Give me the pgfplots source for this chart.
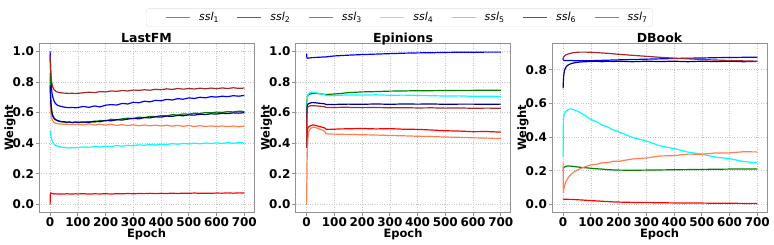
\documentclass[border=0pt]{standalone}
\usepackage{pgfplots}
\pgfplotsset{compat=1.18}
\usepackage{pgfplotstable}
\usepackage{fontspec}
\setmainfont{DejaVu Sans}

\definecolor{cA}{HTML}{FF0000}
\definecolor{cB}{HTML}{0000FF}
\definecolor{cC}{HTML}{008000}
\definecolor{cD}{HTML}{00FFFF}
\definecolor{cE}{HTML}{FF7F50}
\definecolor{cF}{HTML}{00008B}
\definecolor{cG}{HTML}{A52A2A}

% legend key: short stroke in the series colour, then the label
\newcommand{\sslkey}[2]{\textcolor{#1!70}{\rule[0.42ex]{24pt}{1.3pt}}\hspace{9pt}\textit{ssl}\textsubscript{#2}}

% learned weights of the seven SSL tasks per epoch
\pgfplotstableread{
ep   s1    s2    s3    s4    s5    s6    s7
0    0.000 1.000 0.860 0.480 0.670 0.780 0.975
1    0.072 0.930 0.780 0.470 0.640 0.720 0.920
2    0.075 0.870 0.720 0.455 0.615 0.680 0.880
3    0.074 0.820 0.680 0.445 0.595 0.650 0.850
5    0.073 0.760 0.630 0.430 0.570 0.615 0.810
7    0.071 0.725 0.600 0.418 0.556 0.592 0.785
10   0.070 0.700 0.580 0.405 0.545 0.575 0.765
15   0.068 0.672 0.563 0.392 0.535 0.560 0.748
20   0.069 0.658 0.553 0.386 0.530 0.553 0.740
25   0.068 0.650 0.548 0.381 0.528 0.549 0.735
30   0.067 0.645 0.543 0.378 0.526 0.546 0.732
40   0.068 0.640 0.540 0.374 0.525 0.541 0.729
50   0.067 0.636 0.538 0.372 0.523 0.540 0.727
60   0.069 0.633 0.535 0.370 0.524 0.537 0.726
70   0.068 0.632 0.538 0.368 0.521 0.538 0.725
80   0.067 0.634 0.534 0.371 0.524 0.535 0.727
90   0.069 0.631 0.537 0.369 0.522 0.538 0.724
100  0.068 0.633 0.536 0.372 0.523 0.536 0.726
120  0.070 0.640 0.534 0.375 0.519 0.539 0.729
140  0.067 0.634 0.541 0.372 0.526 0.535 0.733
160  0.069 0.643 0.537 0.378 0.518 0.544 0.730
180  0.068 0.637 0.548 0.374 0.524 0.540 0.737
200  0.070 0.648 0.545 0.381 0.517 0.549 0.735
220  0.067 0.652 0.556 0.377 0.523 0.546 0.741
240  0.070 0.649 0.552 0.384 0.516 0.553 0.739
260  0.069 0.660 0.559 0.380 0.521 0.551 0.744
280  0.071 0.656 0.563 0.386 0.515 0.557 0.741
300  0.069 0.667 0.561 0.383 0.520 0.562 0.747
320  0.071 0.664 0.570 0.389 0.514 0.559 0.745
340  0.070 0.674 0.567 0.386 0.519 0.567 0.749
360  0.072 0.670 0.575 0.392 0.513 0.565 0.746
380  0.070 0.680 0.573 0.388 0.518 0.572 0.752
400  0.072 0.677 0.580 0.394 0.512 0.570 0.749
420  0.071 0.686 0.578 0.391 0.517 0.577 0.755
440  0.073 0.682 0.586 0.397 0.511 0.575 0.751
460  0.071 0.691 0.584 0.393 0.516 0.581 0.757
480  0.073 0.687 0.591 0.398 0.510 0.579 0.753
500  0.072 0.696 0.589 0.395 0.515 0.585 0.757
520  0.074 0.692 0.596 0.400 0.509 0.583 0.754
540  0.072 0.700 0.594 0.396 0.514 0.589 0.759
560  0.073 0.696 0.600 0.401 0.509 0.587 0.755
580  0.072 0.704 0.598 0.397 0.513 0.592 0.760
600  0.074 0.701 0.603 0.402 0.508 0.590 0.756
620  0.073 0.707 0.601 0.398 0.513 0.595 0.761
640  0.075 0.704 0.606 0.403 0.508 0.593 0.757
660  0.073 0.710 0.604 0.399 0.512 0.598 0.762
680  0.075 0.707 0.609 0.404 0.507 0.596 0.758
700  0.074 0.712 0.607 0.401 0.511 0.599 0.760
}\lastfm

\pgfplotstableread{
ep   s1    s2    s3    s4    s5    s6    s7
0    0.370 0.985 0.550 0.380 0.000 0.400 0.370
1    0.420 0.960 0.640 0.560 0.150 0.600 0.590
2    0.470 0.957 0.690 0.650 0.300 0.640 0.620
3    0.490 0.956 0.705 0.690 0.380 0.650 0.630
5    0.500 0.955 0.715 0.715 0.440 0.655 0.637
7    0.505 0.956 0.718 0.722 0.470 0.658 0.640
10   0.510 0.957 0.720 0.727 0.485 0.660 0.642
15   0.515 0.958 0.722 0.731 0.497 0.663 0.644
20   0.518 0.959 0.724 0.733 0.503 0.665 0.645
25   0.519 0.959 0.725 0.732 0.505 0.665 0.645
30   0.517 0.960 0.725 0.730 0.503 0.664 0.644
40   0.512 0.961 0.724 0.727 0.497 0.662 0.643
50   0.507 0.962 0.722 0.723 0.490 0.660 0.641
60   0.502 0.963 0.720 0.720 0.482 0.658 0.639
65   0.500 0.963 0.719 0.719 0.478 0.657 0.638
70   0.491 0.964 0.718 0.711 0.462 0.652 0.634
80   0.490 0.966 0.719 0.710 0.460 0.652 0.633
100  0.491 0.970 0.721 0.712 0.459 0.653 0.633
120  0.493 0.972 0.724 0.713 0.458 0.654 0.634
150  0.494 0.975 0.730 0.715 0.457 0.655 0.634
200  0.496 0.979 0.735 0.714 0.455 0.654 0.632
250  0.493 0.982 0.737 0.716 0.453 0.656 0.633
300  0.495 0.985 0.740 0.713 0.450 0.654 0.631
350  0.491 0.988 0.741 0.714 0.448 0.656 0.632
400  0.490 0.990 0.743 0.712 0.445 0.655 0.630
450  0.486 0.991 0.743 0.710 0.443 0.656 0.631
500  0.481 0.993 0.744 0.708 0.440 0.654 0.629
550  0.479 0.994 0.745 0.709 0.438 0.655 0.630
600  0.475 0.994 0.745 0.706 0.435 0.655 0.628
650  0.476 0.995 0.746 0.707 0.433 0.654 0.629
700  0.472 0.995 0.745 0.705 0.430 0.655 0.628
}\epinions

\pgfplotstableread{
ep   s1    s2    s3    s4    s5    s6    s7
0    0.030 0.870 0.200 0.280 0.250 0.690 0.860
1    0.032 0.860 0.210 0.500 0.070 0.730 0.870
2    0.031 0.857 0.215 0.520 0.085 0.760 0.875
3    0.031 0.856 0.218 0.530 0.095 0.775 0.878
5    0.030 0.855 0.222 0.540 0.110 0.795 0.882
7    0.031 0.855 0.224 0.547 0.122 0.805 0.885
10   0.030 0.855 0.226 0.553 0.135 0.815 0.888
15   0.031 0.855 0.228 0.560 0.150 0.825 0.892
20   0.030 0.855 0.228 0.565 0.162 0.830 0.895
25   0.030 0.855 0.228 0.567 0.172 0.834 0.897
30   0.030 0.855 0.227 0.566 0.180 0.837 0.899
40   0.029 0.854 0.225 0.562 0.193 0.841 0.902
50   0.028 0.854 0.223 0.555 0.203 0.844 0.904
60   0.027 0.854 0.221 0.547 0.211 0.846 0.905
70   0.026 0.854 0.219 0.538 0.218 0.847 0.905
80   0.025 0.854 0.218 0.528 0.224 0.848 0.905
100  0.023 0.854 0.215 0.505 0.235 0.849 0.904
120  0.021 0.855 0.212 0.492 0.238 0.851 0.902
140  0.019 0.856 0.210 0.472 0.248 0.848 0.900
160  0.017 0.857 0.207 0.461 0.248 0.851 0.898
180  0.015 0.858 0.205 0.443 0.256 0.849 0.895
200  0.014 0.859 0.204 0.432 0.256 0.851 0.892
250  0.012 0.861 0.203 0.398 0.270 0.848 0.886
300  0.011 0.863 0.204 0.377 0.276 0.851 0.880
350  0.010 0.865 0.205 0.348 0.288 0.849 0.874
400  0.009 0.867 0.206 0.332 0.290 0.851 0.869
450  0.008 0.869 0.207 0.311 0.299 0.848 0.865
500  0.008 0.870 0.208 0.299 0.298 0.851 0.861
550  0.007 0.872 0.209 0.281 0.306 0.849 0.858
600  0.007 0.873 0.210 0.272 0.306 0.851 0.855
650  0.006 0.874 0.210 0.255 0.313 0.848 0.853
700  0.006 0.875 0.211 0.247 0.312 0.850 0.851
}\dbook

\pgfplotsset{
  panel/.style={
    scale only axis, width=215pt, height=168.3pt,
    anchor=south west,
    xmin=-40, xmax=735,
    xtick={0,100,...,700},
    grid=major,
    major grid style={dotted, gray!45, line width=0.6pt},
    axis line style={gray!85, line width=0.8pt},
    tick style={gray!85, line width=0.8pt},
    tick align=outside, tick pos=left,
    major tick length=3.5pt,
    /pgf/number format/assume math mode=true,
    tick label style={font=\bfseries\fontsize{12}{14}\selectfont},
    xticklabel style={yshift=1pt},
    yticklabel style={xshift=2pt, /pgf/number format/fixed,
      /pgf/number format/fixed zerofill, /pgf/number format/precision=1},
    label style={font=\bfseries\fontsize{11.5}{13}\selectfont},
    title style={font=\bfseries\fontsize{12.5}{14}\selectfont,
      at={(axis description cs:0.5,1.01)}, anchor=base, yshift=-6pt},
    xlabel={Epoch}, ylabel={Weight},
    xlabel style={at={(axis description cs:0.5,-0.13)}, anchor=center},
    ylabel style={at={(axis description cs:-0.135,0.5)}, anchor=center},
    every axis plot/.append style={line width=1.2pt, line join=round},
  },
}

\begin{document}
\begin{tikzpicture}
\useasboundingbox (0,0) rectangle (774pt,244pt);

\begin{axis}[panel, at={(39pt,32pt)}, title={LastFM},
  ymin=-0.05, ymax=1.05, ytick={0,0.2,...,1.0}]
  \addplot[draw=cA] table[x=ep, y=s1] {\lastfm};
  \addplot[draw=cB] table[x=ep, y=s2] {\lastfm};
  \addplot[draw=cC] table[x=ep, y=s3] {\lastfm};
  \addplot[draw=cD] table[x=ep, y=s4] {\lastfm};
  \addplot[draw=cE] table[x=ep, y=s5] {\lastfm};
  \addplot[draw=cF] table[x=ep, y=s6] {\lastfm};
  \addplot[draw=cG] table[x=ep, y=s7] {\lastfm};
\end{axis}

\begin{axis}[panel, at={(295.5pt,32pt)}, title={Epinions},
  ymin=-0.05, ymax=1.05, ytick={0,0.2,...,1.0},
  legend columns=7,
  legend style={at={(0.5,1)}, anchor=south, yshift=17pt, xshift=-3.5pt,
    draw=gray!25, rounded corners=2pt, inner xsep=3pt, inner ysep=2pt,
    font=\fontsize{11}{13}\selectfont,
    /tikz/every even column/.append style={column sep=0pt},
    /tikz/every odd column/.append style={column sep=14.5pt}},
  ]
  \addlegendimage{empty legend}\addlegendentry{\sslkey{cA}{1}}
  \addlegendimage{empty legend}\addlegendentry{\sslkey{cB}{2}}
  \addlegendimage{empty legend}\addlegendentry{\sslkey{cC}{3}}
  \addlegendimage{empty legend}\addlegendentry{\sslkey{cD}{4}}
  \addlegendimage{empty legend}\addlegendentry{\sslkey{cE}{5}}
  \addlegendimage{empty legend}\addlegendentry{\sslkey{cF}{6}}
  \addlegendimage{empty legend}\addlegendentry{\sslkey{cG}{7}}
  \addplot[draw=cA] table[x=ep, y=s1] {\epinions};
  \addplot[draw=cB] table[x=ep, y=s2] {\epinions};
  \addplot[draw=cC] table[x=ep, y=s3] {\epinions};
  \addplot[draw=cD] table[x=ep, y=s4] {\epinions};
  \addplot[draw=cE] table[x=ep, y=s5] {\epinions};
  \addplot[draw=cF] table[x=ep, y=s6] {\epinions};
  \addplot[draw=cG] table[x=ep, y=s7] {\epinions};
\end{axis}

\begin{axis}[panel, at={(552pt,32pt)}, title={DBook},
  ymin=-0.045, ymax=0.955, ytick={0,0.2,...,0.8}]
  \addplot[draw=cA] table[x=ep, y=s1] {\dbook};
  \addplot[draw=cB] table[x=ep, y=s2] {\dbook};
  \addplot[draw=cC] table[x=ep, y=s3] {\dbook};
  \addplot[draw=cD] table[x=ep, y=s4] {\dbook};
  \addplot[draw=cE] table[x=ep, y=s5] {\dbook};
  \addplot[draw=cF] table[x=ep, y=s6] {\dbook};
  \addplot[draw=cG] table[x=ep, y=s7] {\dbook};
\end{axis}
\end{tikzpicture}
\end{document}
